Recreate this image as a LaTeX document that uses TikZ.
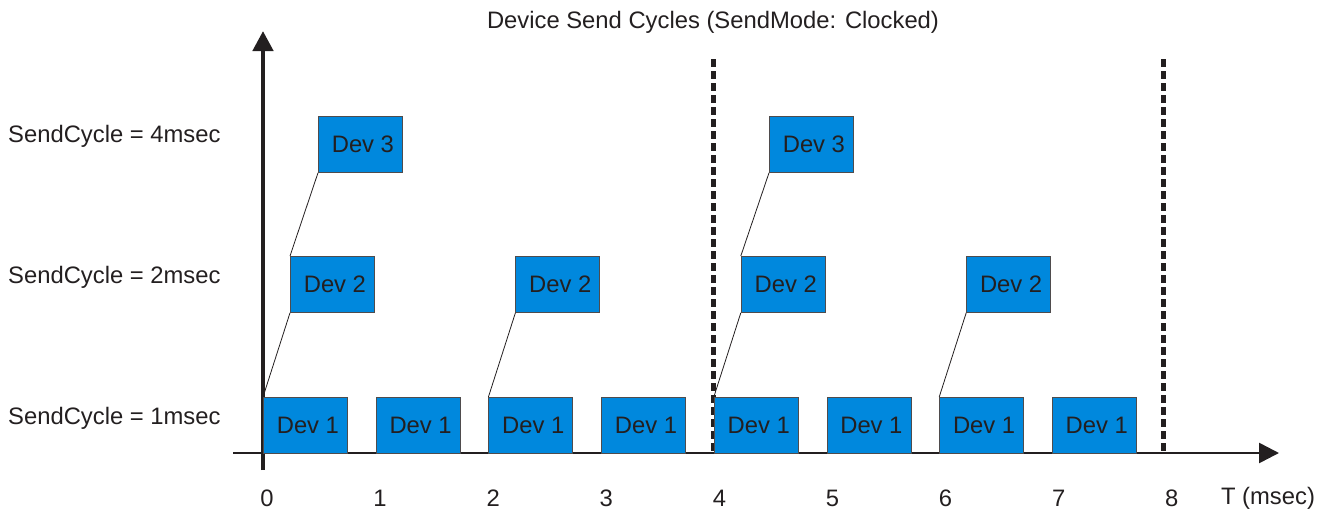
\documentclass[tikz,border=0pt]{standalone}
\usepackage{fontspec}
\setmainfont{Liberation Sans}
\usetikzlibrary{arrows.meta}
\definecolor{ink}{HTML}{231F20}
\definecolor{devblue}{HTML}{0088DD}
\begin{document}
\begin{tikzpicture}[x=1pt,y=-1pt,
  every node/.style={font=\fontsize{23.8}{26}\selectfont,text=ink,inner sep=0pt},
  dev/.style={draw=ink!80,line width=0.8pt,fill=devblue,minimum width=84pt,minimum height=56pt,anchor=north west},
  axis/.style={draw=ink,-{Triangle[length=20pt,width=20pt]}},
  cycle/.style={draw=ink,line width=5pt,dash pattern=on 8pt off 4pt},
  link/.style={draw=ink,line width=0.8pt}]
\useasboundingbox (0,0) rectangle (1327,514);
% title
\node (title) at (713,22) {Device Send Cycles (SendMode: Clocked)};
% row labels
\node[anchor=west] (l4) at (8,136) {SendCycle = 4msec};
\node[anchor=west] (l2) at (8,277) {SendCycle = 2msec};
\node[anchor=west] (l1) at (8,418) {SendCycle = 1msec};
% dashed cycle lines
\coordinate (c1t) at (713,59); \coordinate (c1b) at (713,453);
\coordinate (c2t) at (1163,59); \coordinate (c2b) at (1163,453);
\draw[cycle] (c1t) -- (c1b);
\draw[cycle] (c2t) -- (c2b);
% axes
\coordinate (xs) at (233,453); \coordinate (xe) at (1279,453);
\coordinate (ys) at (263,470); \coordinate (ye) at (263,31);
\draw[axis,line width=2.6pt] (xs) -- (xe);
\draw[axis,line width=4.5pt] (ys) -- (ye);
% Dev 1 boxes
\foreach \k in {0,...,7} {
  \node[dev] (d1-\k) at ({263+112.7*\k},397) {\hspace*{5pt}Dev 1};
}
% Dev 2 boxes
\foreach \k in {0,...,3} {
  \node[dev] (d2-\k) at ({290+225.4*\k},256) {\hspace*{5pt}Dev 2};
}
% Dev 3 boxes
\node[dev] (d3-0) at (318,116) {\hspace*{5pt}Dev 3};
\node[dev] (d3-1) at (769,116) {\hspace*{5pt}Dev 3};
% links
\foreach \k/\j in {0/0,1/2,2/4,3/6} {
  \draw[link] (d1-\j.north west) -- (d2-\k.south west);
}
\draw[link] (d2-0.north west) -- (d3-0.south west);
\draw[link] (d2-2.north west) -- (d3-1.south west);
% tick labels
\foreach \t in {0,...,8} {
  \node (t\t) at ({267+113.1*\t},498) {\t};
}
\node (tunit) at (1268,498) {T (msec)};
\end{tikzpicture}
\end{document}
